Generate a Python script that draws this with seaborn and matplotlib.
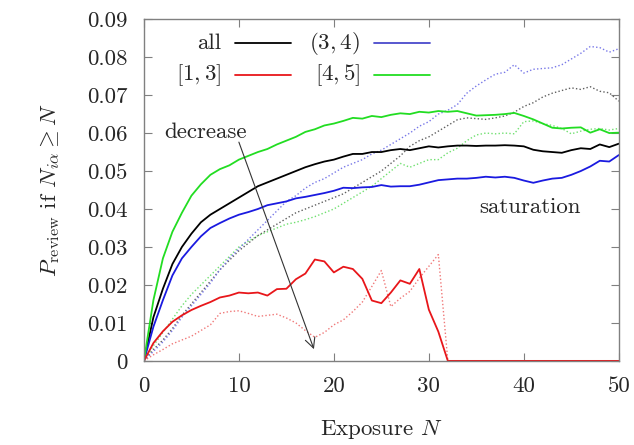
import numpy as np
import pandas as pd
import matplotlib
matplotlib.use("Agg")
import matplotlib.pyplot as plt
import seaborn as sns

# ---------------- data ----------------
N = list(range(0, 51))

all_solid = [0, 0.0115, 0.019, 0.0255, 0.030, 0.0335, 0.0365, 0.0385, 0.040, 0.0415,
             0.043, 0.0445, 0.046, 0.047, 0.048, 0.049, 0.050, 0.051, 0.0518, 0.0525,
             0.053, 0.0538, 0.0545, 0.0545, 0.055, 0.055, 0.0555, 0.0558, 0.0555, 0.056,
             0.0565, 0.0562, 0.0565, 0.0567, 0.0567, 0.0566, 0.0567, 0.0567, 0.0568, 0.0567,
             0.0565, 0.0556, 0.0552, 0.055, 0.0548, 0.0555, 0.056, 0.0558, 0.057, 0.0563,
             0.0572]
r13_solid = [0, 0.0047, 0.0078, 0.0103, 0.012, 0.0134, 0.0145, 0.0155, 0.0167, 0.0172,
             0.018, 0.0178, 0.018, 0.0172, 0.0189, 0.019, 0.0215, 0.023, 0.0267, 0.0262,
             0.0233, 0.0248, 0.0242, 0.0216, 0.0159, 0.0152, 0.018, 0.0212, 0.0203, 0.0242,
             0.0135, 0.0077, 0, 0, 0, 0, 0, 0, 0, 0,
             0, 0, 0, 0, 0, 0, 0, 0, 0, 0, 0]
r34_solid = [0, 0.009, 0.016, 0.0225, 0.027, 0.030, 0.0328, 0.035, 0.0363, 0.0375,
             0.0385, 0.0392, 0.040, 0.041, 0.0415, 0.042, 0.0428, 0.0432, 0.0437, 0.0442,
             0.0448, 0.0456, 0.0455, 0.0457, 0.0458, 0.0463, 0.0459, 0.046, 0.046, 0.0464,
             0.047, 0.0476, 0.0478, 0.048, 0.048, 0.0482, 0.0485, 0.0483, 0.0485, 0.0482,
             0.0475, 0.0469, 0.0475, 0.048, 0.0482, 0.049, 0.050, 0.0512, 0.0527, 0.0525,
             0.0542]
r45_solid = [0, 0.016, 0.027, 0.034, 0.039, 0.0435, 0.0465, 0.049, 0.0505, 0.0515,
             0.053, 0.054, 0.055, 0.0558, 0.057, 0.058, 0.059, 0.0603, 0.061, 0.062,
             0.0625, 0.0632, 0.064, 0.0638, 0.0645, 0.0642, 0.0648, 0.0652, 0.065, 0.0656,
             0.0654, 0.0658, 0.0656, 0.0658, 0.0652, 0.0646, 0.0647, 0.0648, 0.065, 0.0653,
             0.0645, 0.0636, 0.0625, 0.0614, 0.0612, 0.0614, 0.0615, 0.0601, 0.061, 0.060,
             0.0601]

all_dotted = [0, 0.003, 0.0055, 0.0085, 0.012, 0.015, 0.018, 0.021, 0.024, 0.0265,
              0.029, 0.031, 0.033, 0.0345, 0.036, 0.0375, 0.039, 0.040, 0.041, 0.042,
              0.043, 0.044, 0.0455, 0.047, 0.0485, 0.050, 0.052, 0.054, 0.0565, 0.058,
              0.059, 0.0605, 0.062, 0.0635, 0.064, 0.0638, 0.0636, 0.064, 0.0645, 0.0655,
              0.067, 0.068, 0.0695, 0.0705, 0.0712, 0.0719, 0.0715, 0.0722, 0.071, 0.0706,
              0.0684]
r13_dotted = [0, 0.0016, 0.003, 0.0045, 0.0055, 0.0065, 0.008, 0.0095, 0.0125, 0.013,
              0.0132, 0.0125, 0.0117, 0.012, 0.0123, 0.0113, 0.010, 0.008, 0.0062, 0.0075,
              0.0095, 0.0108, 0.013, 0.0155, 0.0196, 0.0238, 0.0143, 0.0165, 0.0183, 0.0218,
              0.0249, 0.028, 0, 0, 0, 0, 0, 0, 0, 0,
              0, 0, 0, 0, 0, 0, 0, 0, 0, 0, 0]
r34_dotted = [0, 0.0025, 0.005, 0.008, 0.0115, 0.0145, 0.0175, 0.0205, 0.024, 0.027,
              0.0295, 0.032, 0.0345, 0.037, 0.0395, 0.042, 0.0435, 0.0455, 0.047, 0.048,
              0.0495, 0.051, 0.052, 0.053, 0.0545, 0.0555, 0.057, 0.0585, 0.060, 0.0618,
              0.063, 0.065, 0.066, 0.0675, 0.0705, 0.0724, 0.074, 0.0755, 0.076, 0.078,
              0.0758, 0.0768, 0.077, 0.0772, 0.078, 0.0795, 0.081, 0.0828, 0.0825, 0.0813,
              0.0822]
r45_dotted = [0, 0.004, 0.0075, 0.011, 0.0145, 0.0175, 0.020, 0.0225, 0.025, 0.0275,
              0.030, 0.0315, 0.033, 0.034, 0.035, 0.036, 0.0365, 0.0372, 0.038, 0.039,
              0.040, 0.0415, 0.043, 0.0445, 0.046, 0.048, 0.050, 0.052, 0.051, 0.052,
              0.053, 0.053, 0.0548, 0.056, 0.058, 0.0595, 0.060, 0.0598, 0.060, 0.0598,
              0.063, 0.0632, 0.0625, 0.062, 0.0612, 0.0598, 0.0605, 0.061, 0.0612, 0.0608,
              0.0612]

legend_labels = ["all", r"$(3,4)$", r"$[1,3]$", r"$[4,5]$"]
x_ticks = [0, 10, 20, 30, 40, 50]
y_ticks = [0, 0.01, 0.02, 0.03, 0.04, 0.05, 0.06, 0.07, 0.08, 0.09]
y_ticklabels = ["0", "0.01", "0.02", "0.03", "0.04", "0.05", "0.06", "0.07", "0.08", "0.09"]

# ---------------- style ----------------
sns.set_style("ticks")
plt.rcParams["font.family"] = ["cmr10", "DejaVu Serif"]
plt.rcParams["mathtext.fontset"] = "cm"
plt.rcParams["axes.formatter.use_mathtext"] = True
FS = 16.5

fig = plt.figure(figsize=(6.34, 4.45), dpi=100)
ax = fig.add_axes([0.227, 0.189, 0.749, 0.768])

c_black, c_red, c_blue, c_green = "#000000", "#e8161a", "#1a1ae0", "#22dd22"
cd_black, cd_red, cd_blue, cd_green = "#606060", "#f07878", "#7878e8", "#70e070"

dot = (0, (1, 1.6))
for y, c in [(r45_dotted, cd_green), (all_dotted, cd_black), (r34_dotted, cd_blue), (r13_dotted, cd_red)]:
    sns.lineplot(x=N, y=y, color=c, lw=1.0, linestyle=dot, ax=ax)
for y, c in [(all_solid, c_black), (r34_solid, c_blue), (r45_solid, c_green), (r13_solid, c_red)]:
    sns.lineplot(x=N, y=y, color=c, lw=1.3, ax=ax)

ax.set_xlim(0, 50)
ax.set_ylim(0, 0.09)
ax.set_xticks(x_ticks)
ax.set_xticklabels([str(t) for t in x_ticks])
ax.set_yticks(y_ticks)
ax.set_yticklabels(y_ticklabels)
ax.tick_params(direction="in", length=6, width=0.8, color="#808080",
               top=True, right=True, labelsize=FS)
ax.tick_params(axis="y", pad=12)
ax.tick_params(axis="x", pad=11)
for s in ax.spines.values():
    s.set_color("#808080")
    s.set_linewidth(1.0)

ax.set_xlabel(r"Exposure $N$", fontsize=FS, labelpad=16)
ax.set_ylabel(r"$P_{\mathrm{review}}$ if $N_{i\alpha}\geq N$", fontsize=FS, labelpad=18)

# gnuplot-style key: right-aligned label followed by a line sample
key_colors = [c_black, "#4a4acc", c_red, c_green]
key_text_x = [0.162, 0.455, 0.162, 0.455]
key_y = [0.930, 0.930, 0.836, 0.836]
for lab, col, tx, ty in zip(legend_labels, key_colors, key_text_x, key_y):
    ax.text(tx, ty, lab, transform=ax.transAxes, ha="right", va="center", fontsize=FS)
    ax.plot([tx + 0.030, tx + 0.148], [ty, ty], transform=ax.transAxes, color=col, lw=1.3)

ax.annotate("", xy=(18, 0.0024), xytext=(9.9, 0.0583),
            arrowprops=dict(arrowstyle="->", color="#333333", lw=0.8, mutation_scale=18))
ax.text(6.5, 0.0602, "decrease", ha="center", va="center", fontsize=FS)
ax.text(40.6, 0.0404, "saturation", ha="center", va="center", fontsize=FS)

fig.savefig("out.png", dpi=100)
